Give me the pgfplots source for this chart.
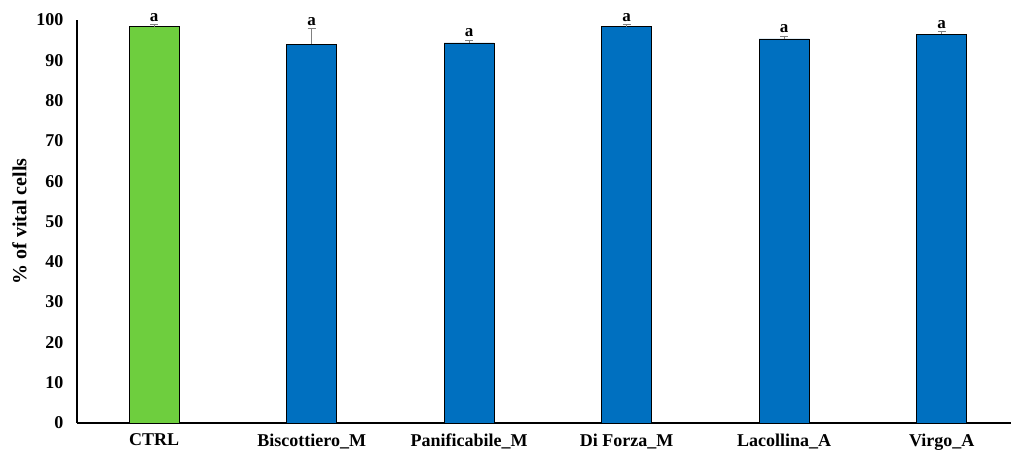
\documentclass[border=0pt]{standalone}
\usepackage{pgfplots}
\pgfplotsset{compat=1.18}
\usepackage{fontspec}
\setmainfont{Liberation Serif}
\definecolor{ctrlgreen}{RGB}{110,206,62}
\definecolor{barblue}{RGB}{0,112,192}
\begin{document}
\begin{tikzpicture}
\begin{axis}[
  scale only axis,
  width=934pt, height=403pt,
  xmin=-0.49, xmax=5.44,
  ymin=0, ymax=100,
  axis x line=bottom, axis y line=left,
  axis line style={-, line width=1.6pt},
  xtick={0,1,2,3,4,5},
  xticklabels={CTRL,Biscottiero\_M,Panificabile\_M,Di Forza\_M,Lacollina\_A,Virgo\_A},
  ytick={0,10,...,100},
  major tick length=0pt,
  tick label style={font=\fontsize{18}{20}\selectfont\bfseries},
  /pgf/number format/assume math mode=true,
  xticklabel style={yshift=-7pt},
  yticklabel style={xshift=-10pt},
  ylabel={\% of vital cells},
  ylabel style={font=\fontsize{20}{22}\selectfont\bfseries, yshift=3pt},
  ybar, bar width=50pt, bar shift=0pt,
  clip=false,
]
\addplot[fill=ctrlgreen, draw=black, line width=0.8pt,
  error bars/.cd, y dir=plus, y explicit, error bar style={gray, line width=0.6pt}, error mark options={rotate=90, mark size=4pt, gray}]
  coordinates {(0,98.3) +- (0,0.7)};
\addplot[fill=barblue, draw=black, line width=0.8pt,
  error bars/.cd, y dir=plus, y explicit, error bar style={gray, line width=0.6pt}, error mark options={rotate=90, mark size=4pt, gray}]
  coordinates {(1,94.0) +- (0,4.0) (2,94.3) +- (0,0.8) (3,98.3) +- (0,0.7) (4,95.3) +- (0,0.8) (5,96.5) +- (0,0.8)};
\addplot[draw=none, mark=none, nodes near coords={a},
  every node near coord/.style={font=\fontsize{17}{19}\selectfont\bfseries, anchor=south, inner sep=2.5pt}]
  coordinates {(0,99.0) (1,98.0) (2,95.1) (3,99.0) (4,96.1) (5,97.3)};
\coordinate (SW) at (rel axis cs:0,0);
\coordinate (NE) at (rel axis cs:1,1);
\end{axis}
\pgfresetboundingbox
\useasboundingbox ([shift={(-77pt,-31pt)}]SW) rectangle ([shift={(0pt,20pt)}]NE);
\end{tikzpicture}
\end{document}
